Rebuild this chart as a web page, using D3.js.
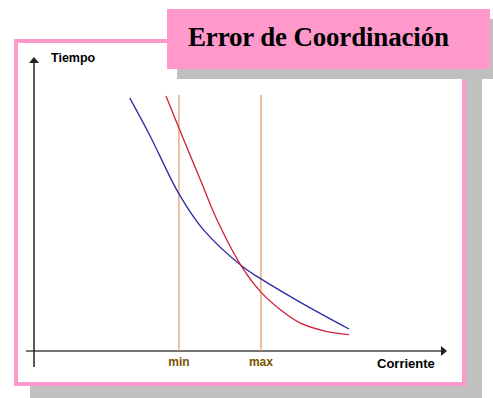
<!DOCTYPE html>
<html>
<head>
<meta charset="utf-8">
<script src="https://cdn.jsdelivr.net/npm/d3@7"></script>
<style>
  body { margin: 0; background: #fff; }
  svg { display: block; }
</style>
</head>
<body>
<div id="chart"></div>
<script>
"use strict";

// curve data, in arbitrary "corriente" (x) and "tiempo" (y) units 0..100
const blueX = [23.6, 28.6, 35.7, 41.6, 51.2, 55.9, 65.5, 77.6];
const blueY = [86.3, 73.4, 53.6, 41.6, 29.0, 24.6, 16.7, 7.5];
const redX = [32.5, 35.7, 40.9, 45.1, 51.2, 55.9, 60.6, 65.5, 71.7, 77.6];
const redY = [87.0, 76.1, 58.7, 44.7, 28.7, 20.1, 14.2, 9.6, 6.8, 5.6];
const markX = [35.7, 55.9];
const markLabels = ["min", "max"];
const markTop = 87.4;
const title = "Error de Coordinación";
const yLabel = "Tiempo";
const xLabel = "Corriente";

const W = 493, H = 398;
const PINK = "#ff99cc", GRAY = "#c0c0c0";

let svg = d3.select("#chart")
    .append("svg")
    .attr("width", W)
    .attr("height", H);

svg.append("rect").attr("width", W).attr("height", H).attr("fill", "#fff");

// frame + shadow
svg.append("rect")
    .attr("x", 30).attr("y", 55).attr("width", 452).attr("height", 347)
    .attr("fill", GRAY);
svg.append("rect")
    .attr("x", 16).attr("y", 41).attr("width", 448).attr("height", 343)
    .attr("fill", "#fff")
    .attr("stroke", PINK)
    .attr("stroke-width", 4);

// title box + shadow
svg.append("rect")
    .attr("x", 177).attr("y", 19).attr("width", 330).attr("height", 60)
    .attr("fill", GRAY);
svg.append("rect")
    .attr("x", 167).attr("y", 9).attr("width", 323).attr("height", 60)
    .attr("fill", PINK);
svg.append("text")
    .attr("x", 188).attr("y", 46)
    .attr("font-family", "'Liberation Serif', 'Times New Roman', serif")
    .attr("font-weight", "bold")
    .attr("font-size", 27)
    .attr("textLength", 261)
    .attr("fill", "#000")
    .text(title);

// scales
let x = d3.scaleLinear().domain([0, 100]).range([34, 440]);
let y = d3.scaleLinear().domain([0, 100]).range([351, 58]);

// axes
const AX = "#222";
svg.append("line")
    .attr("x1", 26).attr("x2", 442)
    .attr("y1", y(0)).attr("y2", y(0))
    .attr("stroke", "#444").attr("stroke-width", 1.5);
svg.append("path")
    .attr("d", "M" + 441 + "," + (y(0) - 5) + "L" + 447 + "," + y(0) + "L" + 441 + "," + (y(0) + 5) + "Z")
    .attr("fill", AX);
svg.append("line")
    .attr("x1", x(0)).attr("x2", x(0))
    .attr("y1", 367).attr("y2", 61)
    .attr("stroke", AX).attr("stroke-width", 1.5);
svg.append("path")
    .attr("d", "M" + (x(0) - 5) + "," + 63 + "L" + x(0) + "," + 57 + "L" + (x(0) + 5) + "," + 63 + "Z")
    .attr("fill", AX);

svg.append("text")
    .attr("x", 51).attr("y", 62)
    .attr("font-family", "'Liberation Sans', Arial, sans-serif")
    .attr("font-weight", "bold")
    .attr("font-size", 12.5)
    .text(yLabel);
svg.append("text")
    .attr("x", 377).attr("y", 368)
    .attr("font-family", "'Liberation Sans', Arial, sans-serif")
    .attr("font-weight", "bold")
    .attr("font-size", 13)
    .text(xLabel);

// min / max markers
svg.selectAll(".mark")
    .data(markX)
    .enter()
    .append("line")
    .attr("class", "mark")
    .attr("x1", d => x(d)).attr("x2", d => x(d))
    .attr("y1", y(markTop)).attr("y2", y(0))
    .attr("stroke", "#e8a070")
    .attr("stroke-width", 1.3);
svg.selectAll(".markLabel")
    .data(markX)
    .enter()
    .append("text")
    .attr("class", "markLabel")
    .attr("x", d => x(d)).attr("y", 366)
    .attr("text-anchor", "middle")
    .attr("font-family", "'Liberation Sans', Arial, sans-serif")
    .attr("font-weight", "bold")
    .attr("font-size", 12)
    .attr("fill", "#7a5200")
    .text((d, i) => markLabels[i]);

// curves
let line = d3.line()
    .x(d => x(d[0]))
    .y(d => y(d[1]))
    .curve(d3.curveCatmullRom.alpha(0.5));

svg.append("path")
    .datum(blueX.map((v, i) => [v, blueY[i]]))
    .attr("d", line)
    .attr("fill", "none")
    .attr("stroke", "#2a2aa8")
    .attr("stroke-width", 1.3);
svg.append("path")
    .datum(redX.map((v, i) => [v, redY[i]]))
    .attr("d", line)
    .attr("fill", "none")
    .attr("stroke", "#d0203a")
    .attr("stroke-width", 1.3);
</script>
</body>
</html>
